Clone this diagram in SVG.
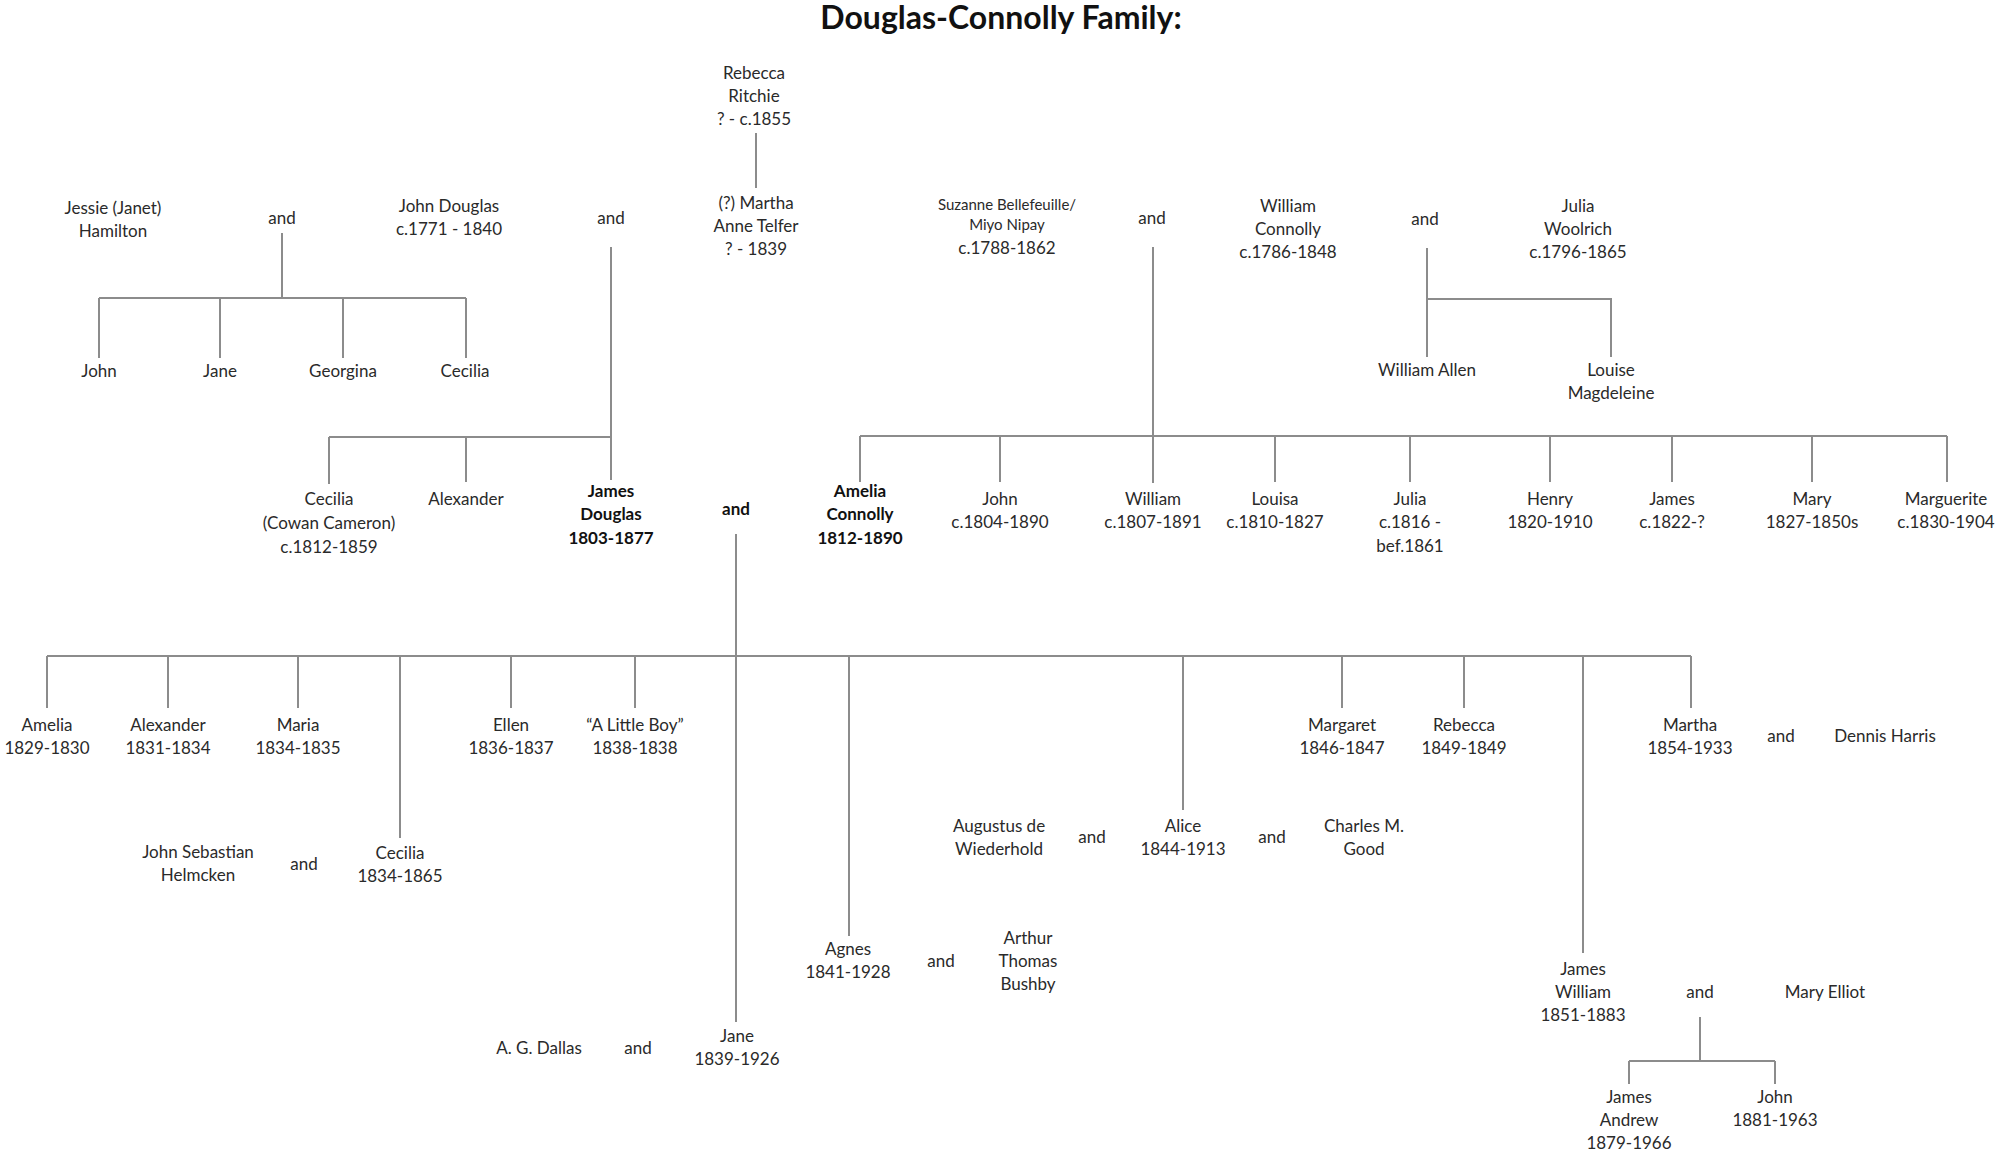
<svg xmlns="http://www.w3.org/2000/svg" width="2000" height="1154" viewBox="0 0 2000 1154">
<style>
text{font-family:Lato,"Liberation Sans",sans-serif;font-size:17px;fill:#2a2a2a;text-anchor:middle;dominant-baseline:central}
.b{font-weight:bold;fill:#111}
.s{font-size:15px}
.t{font-size:32px;font-weight:bold;fill:#111;dominant-baseline:auto}
.c path{fill:none;stroke:#8c8c8c;stroke-width:2}
</style>
<rect width="2000" height="1154" fill="#fff"/>
<text class="t" x="1001" y="29">Douglas-Connolly Family:</text>
<g class="c" id="connectors">
<path d="M282 233V298M99 298H466M99 298V358M220 298V358M343 298V358M466 298V358"/>
<path d="M756 133V188"/>
<path d="M611 247V480M329 437H611M329 437V484M466 437V482"/>
<path d="M1153 247V483M860 436H1947M860 436V482M1000 436V482M1275 436V482M1410 436V482M1550 436V482M1672 436V482M1812 436V482M1947 436V482"/>
<path d="M1427 248V357M1427 299H1611V357"/>
<path d="M736 534V1022M47 656H1691M47 656V708M168 656V708M298 656V708M511 656V708M635 656V708M1342 656V708M1464 656V708M1691 656V708M400 656V838M849 656V936M1183 656V810M1583 656V953"/>
<path d="M1700 1017V1061M1629 1061H1775M1629 1061V1084M1775 1061V1084"/>
</g>
<g id="jessie"><text x="113"><tspan x="113" y="207">Jessie (Janet)</tspan><tspan x="113" y="230">Hamilton</tspan></text></g>
<g id="and1"><text x="282" y="217">and</text></g>
<g id="john-douglas"><text><tspan x="449" y="205">John Douglas</tspan><tspan x="449" y="228">c.1771 - 1840</tspan></text></g>
<g id="and2"><text x="611" y="217">and</text></g>
<g id="rebecca-ritchie"><text><tspan x="754" y="72">Rebecca</tspan><tspan x="754" y="95">Ritchie</tspan><tspan x="754" y="118">? - c.1855</tspan></text></g>
<g id="martha-telfer"><text><tspan x="756" y="202">(?) Martha</tspan><tspan x="756" y="225">Anne Telfer</tspan><tspan x="756" y="248">? - 1839</tspan></text></g>
<g id="suzanne"><text><tspan class="s" x="1007" y="204">Suzanne Bellefeuille/</tspan><tspan class="s" x="1007" y="224">Miyo Nipay</tspan><tspan x="1007" y="247">c.1788-1862</tspan></text></g>
<g id="and3"><text x="1152" y="217">and</text></g>
<g id="william-connolly"><text><tspan x="1288" y="205">William</tspan><tspan x="1288" y="228">Connolly</tspan><tspan x="1288" y="251">c.1786-1848</tspan></text></g>
<g id="and4"><text x="1425" y="218">and</text></g>
<g id="julia-woolrich"><text><tspan x="1578" y="205">Julia</tspan><tspan x="1578" y="228">Woolrich</tspan><tspan x="1578" y="251">c.1796-1865</tspan></text></g>
<g id="john1"><text x="99" y="370">John</text></g>
<g id="jane1"><text x="220" y="370">Jane</text></g>
<g id="georgina"><text x="343" y="370">Georgina</text></g>
<g id="cecilia1"><text x="465" y="370">Cecilia</text></g>
<g id="william-allen"><text x="1427" y="369">William Allen</text></g>
<g id="louise"><text><tspan x="1611" y="369">Louise</tspan><tspan x="1611" y="392">Magdeleine</tspan></text></g>
<g id="cecilia-cc"><text><tspan x="329" y="498">Cecilia</tspan><tspan x="329" y="522">(Cowan Cameron)</tspan><tspan x="329" y="546">c.1812-1859</tspan></text></g>
<g id="alexander1"><text x="466" y="498">Alexander</text></g>
<g id="james-douglas"><text class="b"><tspan x="611" y="490">James</tspan><tspan x="611" y="513">Douglas</tspan><tspan x="611" y="537">1803-1877</tspan></text></g>
<g id="and-main"><text class="b" x="736" y="508">and</text></g>
<g id="amelia-connolly"><text class="b"><tspan x="860" y="490">Amelia</tspan><tspan x="860" y="513">Connolly</tspan><tspan x="860" y="537">1812-1890</tspan></text></g>
<g id="john-c"><text><tspan x="1000" y="498">John</tspan><tspan x="1000" y="521">c.1804-1890</tspan></text></g>
<g id="william-c"><text><tspan x="1153" y="498">William</tspan><tspan x="1153" y="521">c.1807-1891</tspan></text></g>
<g id="louisa"><text><tspan x="1275" y="498">Louisa</tspan><tspan x="1275" y="521">c.1810-1827</tspan></text></g>
<g id="julia-c"><text><tspan x="1410" y="498">Julia</tspan><tspan x="1410" y="521">c.1816 -</tspan><tspan x="1410" y="545">bef.1861</tspan></text></g>
<g id="henry"><text><tspan x="1550" y="498">Henry</tspan><tspan x="1550" y="521">1820-1910</tspan></text></g>
<g id="james-c"><text><tspan x="1672" y="498">James</tspan><tspan x="1672" y="521">c.1822-?</tspan></text></g>
<g id="mary-c"><text><tspan x="1812" y="498">Mary</tspan><tspan x="1812" y="521">1827-1850s</tspan></text></g>
<g id="marguerite"><text><tspan x="1946" y="498">Marguerite</tspan><tspan x="1946" y="521">c.1830-1904</tspan></text></g>
<g id="amelia"><text><tspan x="47" y="724">Amelia</tspan><tspan x="47" y="747">1829-1830</tspan></text></g>
<g id="alexander2"><text><tspan x="168" y="724">Alexander</tspan><tspan x="168" y="747">1831-1834</tspan></text></g>
<g id="maria"><text><tspan x="298" y="724">Maria</tspan><tspan x="298" y="747">1834-1835</tspan></text></g>
<g id="ellen"><text><tspan x="511" y="724">Ellen</tspan><tspan x="511" y="747">1836-1837</tspan></text></g>
<g id="little-boy"><text><tspan x="635" y="724">“A Little Boy”</tspan><tspan x="635" y="747">1838-1838</tspan></text></g>
<g id="margaret"><text><tspan x="1342" y="724">Margaret</tspan><tspan x="1342" y="747">1846-1847</tspan></text></g>
<g id="rebecca2"><text><tspan x="1464" y="724">Rebecca</tspan><tspan x="1464" y="747">1849-1849</tspan></text></g>
<g id="martha"><text><tspan x="1690" y="724">Martha</tspan><tspan x="1690" y="747">1854-1933</tspan></text></g>
<g id="and-martha"><text x="1781" y="735">and</text></g>
<g id="dennis-harris"><text x="1885" y="735">Dennis Harris</text></g>
<g id="helmcken"><text><tspan x="198" y="851">John Sebastian</tspan><tspan x="198" y="874">Helmcken</tspan></text></g>
<g id="and-cecilia"><text x="304" y="863">and</text></g>
<g id="cecilia2"><text><tspan x="400" y="852">Cecilia</tspan><tspan x="400" y="875">1834-1865</tspan></text></g>
<g id="augustus"><text><tspan x="999" y="825">Augustus de</tspan><tspan x="999" y="848">Wiederhold</tspan></text></g>
<g id="and-alice1"><text x="1092" y="836">and</text></g>
<g id="alice"><text><tspan x="1183" y="825">Alice</tspan><tspan x="1183" y="848">1844-1913</tspan></text></g>
<g id="and-alice2"><text x="1272" y="836">and</text></g>
<g id="charles-good"><text><tspan x="1364" y="825">Charles M.</tspan><tspan x="1364" y="848">Good</tspan></text></g>
<g id="agnes"><text><tspan x="848" y="948">Agnes</tspan><tspan x="848" y="971">1841-1928</tspan></text></g>
<g id="and-agnes"><text x="941" y="960">and</text></g>
<g id="bushby"><text><tspan x="1028" y="937">Arthur</tspan><tspan x="1028" y="960">Thomas</tspan><tspan x="1028" y="983">Bushby</tspan></text></g>
<g id="dallas"><text x="539" y="1047">A. G. Dallas</text></g>
<g id="and-jane"><text x="638" y="1047">and</text></g>
<g id="jane2"><text><tspan x="737" y="1035">Jane</tspan><tspan x="737" y="1058">1839-1926</tspan></text></g>
<g id="james-william"><text><tspan x="1583" y="968">James</tspan><tspan x="1583" y="991">William</tspan><tspan x="1583" y="1014">1851-1883</tspan></text></g>
<g id="and-jw"><text x="1700" y="991">and</text></g>
<g id="mary-elliot"><text x="1825" y="991">Mary Elliot</text></g>
<g id="james-andrew"><text><tspan x="1629" y="1096">James</tspan><tspan x="1629" y="1119">Andrew</tspan><tspan x="1629" y="1142">1879-1966</tspan></text></g>
<g id="john2"><text><tspan x="1775" y="1096">John</tspan><tspan x="1775" y="1119">1881-1963</tspan></text></g>
</svg>
